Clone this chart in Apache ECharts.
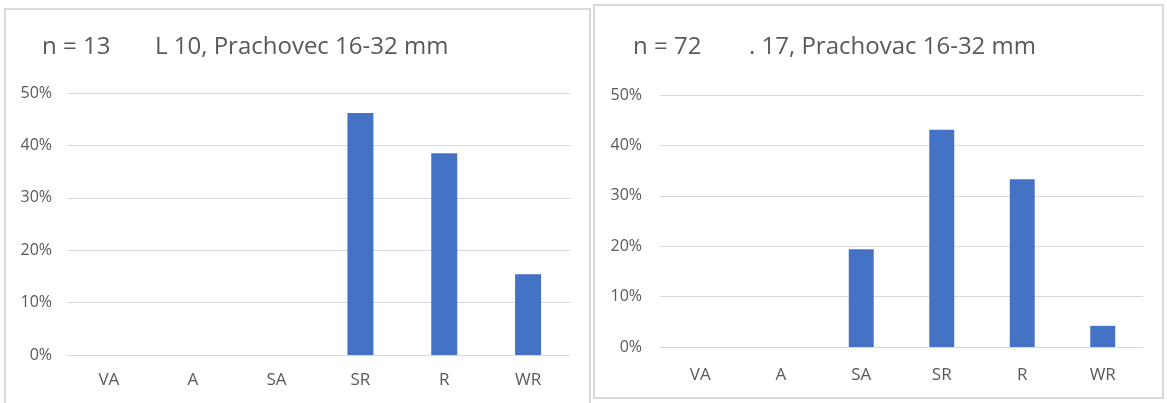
<!DOCTYPE html>
<html>
<head>
<meta charset="utf-8">
<script src="https://cdn.jsdelivr.net/npm/echarts@6/dist/echarts.min.js"></script>
<style>
  html, body { margin: 0; padding: 0; background: #ffffff; }
  #chart { width: 1167px; height: 403px; }
</style>
</head>
<body>
<div id="chart"></div>
<script>
// Roundness classes shared by both panels
const categories = ['VA', 'A', 'SA', 'SR', 'R', 'WR'];

// Share of pebbles per class (%)
const leftValues = [0, 0, 0, 46.2, 38.5, 15.4];   // n = 13
const rightValues = [0, 0, 19.4, 43.1, 33.3, 4.2]; // n = 72

const yTicks = { min: 0, max: 50, interval: 10 };

const leftCount = 'n = 13';
const leftTitle = 'L 10, Prachovec 16-32 mm';
const rightCount = 'n = 72';
const rightTitle = '. 17, Prachovac 16-32 mm';

const textColor = '#595959';
const gridColor = '#d9d9d9';
const barColor = '#4472c4';
const font = '"Open Sans", "Noto Sans", sans-serif';

function titleText(text, x, y) {
  return {
    text: text,
    left: x,
    top: y,
    textStyle: { color: textColor, fontSize: 24, fontWeight: 'normal', fontFamily: font }
  };
}

function xAxis(gridIndex, margin) {
  return {
    type: 'category',
    gridIndex: gridIndex,
    data: categories,
    axisLine: { show: true, lineStyle: { color: gridColor, width: 1 } },
    axisTick: { show: false },
    axisLabel: { color: textColor, fontSize: 17, fontFamily: font, margin: margin }
  };
}

function yAxis(gridIndex, margin) {
  return {
    type: 'value',
    gridIndex: gridIndex,
    min: yTicks.min,
    max: yTicks.max,
    interval: yTicks.interval,
    axisLine: { show: false },
    axisTick: { show: false },
    splitLine: { lineStyle: { color: gridColor, width: 1 } },
    axisLabel: { color: textColor, fontSize: 16, fontFamily: font, margin: margin, formatter: '{value}%' }
  };
}

const chart = echarts.init(document.getElementById('chart'), null, { renderer: 'canvas' });

chart.setOption({
  animation: false,
  backgroundColor: '#ffffff',
  title: [
    titleText(leftCount, 37, 30),
    titleText(leftTitle, 150, 30),
    titleText(rightCount, 628, 30),
    titleText(rightTitle, 744, 30)
  ],
  graphic: [
    // panel frames
    {
      type: 'polyline',
      shape: { points: [[5, 403], [5, 9], [590, 9], [590, 403]] },
      style: { fill: null, stroke: gridColor, lineWidth: 2 },
      z: -1
    },
    {
      type: 'rect',
      shape: { x: 594, y: 5, width: 569, height: 393 },
      style: { fill: '#ffffff', stroke: gridColor, lineWidth: 2 },
      z: -1
    }
  ],
  grid: [
    { left: 67, right: 597, top: 93, bottom: 48 },
    { left: 660, right: 24, top: 95, bottom: 56 }
  ],
  xAxis: [xAxis(0, 17), xAxis(1, 20)],
  yAxis: [yAxis(0, 15), yAxis(1, 18)],
  series: [
    {
      type: 'bar', xAxisIndex: 0, yAxisIndex: 0,
      data: leftValues, barWidth: '31%',
      itemStyle: { color: barColor }
    },
    {
      type: 'bar', xAxisIndex: 1, yAxisIndex: 1,
      data: rightValues, barWidth: '31%',
      itemStyle: { color: barColor }
    }
  ]
});
</script>
</body>
</html>
